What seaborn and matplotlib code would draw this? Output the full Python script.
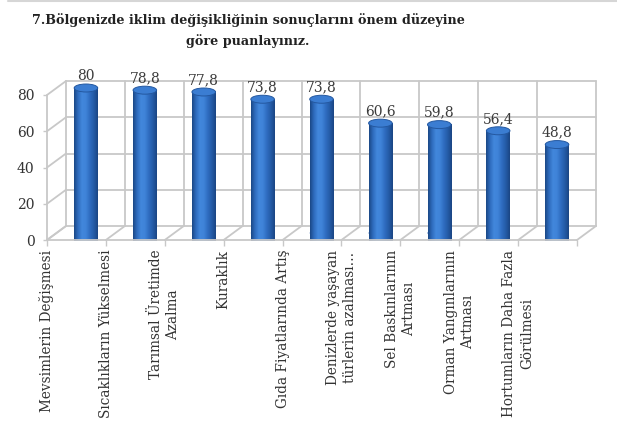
import numpy as np
import pandas as pd
import matplotlib
matplotlib.use("Agg")
import matplotlib.pyplot as plt
import seaborn as sns
from matplotlib.transforms import ScaledTranslation, IdentityTransform
from matplotlib.patches import Ellipse
from matplotlib.lines import Line2D
from matplotlib.colors import LinearSegmentedColormap

# --- data ---------------------------------------------------------------
categories = [
    "Mevsimlerin Değişmesi",
    "Sıcaklıkların Yükselmesi",
    "Tarımsal Üretimde\nAzalma",
    "Kuraklık",
    "Gıda Fiyatlarında Artış",
    "Denizlerde yaşayan\ntürlerin azalması…",
    "Sel Baskınlarının\nArtması",
    "Orman Yangınlarının\nArtması",
    "Hortumların Daha Fazla\nGörülmesi",
]
values = [80, 78.8, 77.8, 73.8, 73.8, 60.6, 59.8, 56.4, 48.8]
yticks = [0, 20, 40, 60, 80]
title = ("7.Bölgenizde iklim değişikliğinin sonuçlarını önem düzeyine\n"
         "göre puanlayınız.")

W, H, DPI = 617, 429, 100
DEPTH_X, DEPTH_Y = 19, 14          # pseudo-3D depth of the box, in pixels
GRID = "#c8c8c8"

sns.set_theme(style="white")
plt.rcParams["font.family"] = ["DejaVu Serif", "DejaVu Sans"]

fig = plt.figure(figsize=(W / DPI, H / DPI), dpi=DPI)
fig.patch.set_facecolor("white")
ax = fig.add_axes([47 / W, 1 - 240 / H, (577 - 47) / W, (240 - 95) / H])

df = pd.DataFrame({"kategori": categories, "puan": values})
sns.barplot(data=df, x="kategori", y="puan", color="#2f6fc4", width=0.4,
            saturation=1, ax=ax, zorder=3)

n = len(categories)
xlo, xhi = -0.5, n - 0.5
ax.set_xlim(xlo, xhi)
ax.set_ylim(0, 80)
ax.set_xlabel("")
ax.set_ylabel("")
for s in ax.spines.values():
    s.set_visible(False)

# translations toward the back wall / bar mid-depth
back = ScaledTranslation(DEPTH_X / DPI, DEPTH_Y / DPI, fig.dpi_scale_trans)
mid = ScaledTranslation(DEPTH_X / 2 / DPI, DEPTH_Y / 2 / DPI, fig.dpi_scale_trans)


def px(x, y, depth=0.0):
    p = ax.transData.transform((x, y))
    return p[0] + depth * DEPTH_X, p[1] + depth * DEPTH_Y


def seg(p0, p1, **kw):
    kw.setdefault("color", GRID)
    kw.setdefault("lw", 1.3)
    fig.add_artist(Line2D([p0[0], p1[0]], [p0[1], p1[1]],
                          transform=IdentityTransform(), zorder=1, **kw))


# back wall grid
for v in yticks:
    ax.plot([xlo, xhi], [v, v], color=GRID, lw=1.3,
            transform=ax.transData + back, clip_on=False, zorder=1)
for b in np.arange(n + 1) - 0.5:
    ax.plot([b, b], [0, 80], color=GRID, lw=1.3,
            transform=ax.transData + back, clip_on=False, zorder=1)

# left side wall and floor
for v in yticks:
    seg(px(xlo, v), px(xlo, v, 1))
seg(px(xlo, 0), px(xlo, 80))
for b in np.arange(n + 1) - 0.5:
    seg(px(b, 0), px(b, 0, 1))
seg(px(xlo, 0), px(xhi, 0))

# cylinder shading
cyl = LinearSegmentedColormap.from_list(
    "cyl", ["#1a4886", "#2e6cbd", "#4287dc", "#3f83d8", "#2f6cc0",
            "#245ba6", "#1a4583"])
grad = np.linspace(0, 1, 128)[None, :]
ELL_H = 4.4
for p in list(ax.patches):
    x0, w, h = p.get_x(), p.get_width(), p.get_height()
    cx = x0 + w / 2
    p.set_transform(ax.transData + mid)
    p.set_clip_on(False)
    p.set_edgecolor("none")
    im = ax.imshow(grad, cmap=cyl, extent=[x0, x0 + w, 0, h], aspect="auto",
                   transform=ax.transData + mid, zorder=4, clip_on=False)
    im.set_clip_path(p)
    bot = Ellipse((cx, 0), w, ELL_H, transform=ax.transData + mid,
                  facecolor="#2a63b0", edgecolor="none", zorder=3,
                  clip_on=False)
    ax.add_patch(bot)
    im2 = ax.imshow(grad, cmap=cyl, extent=[x0, x0 + w, -ELL_H, 0],
                    aspect="auto", transform=ax.transData + mid, zorder=4,
                    clip_on=False)
    im2.set_clip_path(bot)
    top = Ellipse((cx, h), w, ELL_H, transform=ax.transData + mid,
                  facecolor="#3b7dd2", edgecolor="#2458a0", lw=0.7,
                  zorder=5, clip_on=False)
    ax.add_patch(top)
    ax.annotate(f"{h:g}".replace(".", ","), xy=(cx, h),
                xycoords=ax.transData + mid, xytext=(0, 3.5),
                textcoords="offset points", ha="center", va="bottom",
                fontsize=10, color="#3a3a3a", zorder=6)

ax.set_xlim(xlo, xhi)
ax.set_ylim(0, 80)

# axes ticks and labels
ax.set_yticks(yticks)
ax.set_yticklabels([str(v) for v in yticks], fontsize=10, color="#333333")
ax.set_xticks(np.arange(n + 1) - 0.5)
ax.set_xticklabels(categories + [""], rotation=90, fontsize=9.8,
                   color="#333333")
for lab in ax.get_xticklabels():
    lab.set_multialignment("center")
    lab.set_linespacing(1.3)
ax.tick_params(axis="x", length=4, width=1, color=GRID, pad=3,
               bottom=True)
ax.tick_params(axis="y", length=3, width=1, color=GRID, pad=6, left=True)
ax.grid(False)

fig.text(248 / W, 1 - 30.5 / H, title, ha="center", va="center",
         fontsize=9.2, fontweight="bold", color="#222222",
         multialignment="center", linespacing=1.6)

fig.add_artist(Line2D([8 / W, 1], [1 - 1 / H, 1 - 1 / H],
                      transform=fig.transFigure, color="#d6d6d6", lw=1.5))

fig.savefig("out.png", dpi=DPI, facecolor="white")
